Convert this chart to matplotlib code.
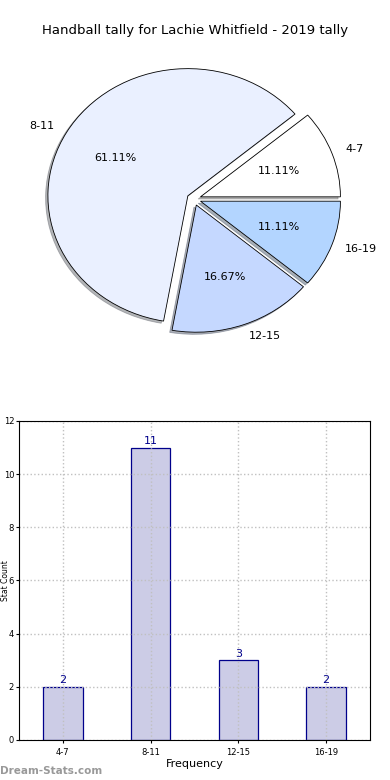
import matplotlib
matplotlib.use("Agg")
import matplotlib.pyplot as plt

title = "Handball tally for Lachie Whitfield - 2019 tally"
categories = ["4-7", "8-11", "12-15", "16-19"]
counts = [2, 11, 3, 2]
pie_colors = ["#ffffff", "#eaf0ff", "#c5d8ff", "#b3d5ff"]
explode = [0.05, 0.05, 0.05, 0.05]

fig = plt.figure(figsize=(3.9, 7.8), dpi=100)

# Pie
axp = fig.add_axes([0.0487, 0.541, 0.897, 0.4077])
wedges, texts, autotexts = axp.pie(
    counts, labels=categories, colors=pie_colors, explode=explode,
    autopct="%1.2f%%", shadow=dict(ox=-0.012, oy=-0.012, shade=0.55),
    startangle=0, counterclock=True,
    wedgeprops=dict(edgecolor="black", linewidth=0.6),
    textprops=dict(fontsize=8))
axp.set_aspect("auto")
axp.set_xlim(-1.25, 1.25)
axp.set_ylim(-1.25, 1.25)
fig.text(0.5, 0.961, title, ha="center", va="center", fontsize=9.5)

# Bar
axb = fig.add_axes([0.0487, 0.0513, 0.9, 0.409])
x = list(range(len(categories)))
bars = axb.bar(x, counts, width=0.45, color="#ccccE6", edgecolor="#00008b", linewidth=0.9)
for xi, c in zip(x, counts):
    axb.text(xi, c + 0.05, str(c), ha="center", va="bottom", color="#00008b", fontsize=8)
axb.set_xlim(-0.5, 3.5)
axb.set_ylim(0, 12)
axb.set_yticks(range(0, 13, 2))
axb.set_xticks(x)
axb.set_xticklabels(categories)
axb.tick_params(labelsize=6, length=2)
axb.tick_params(axis="y", pad=1.5)
axb.grid(True, linestyle=":", color="#c0c0c0", linewidth=1)
axb.set_axisbelow(False)
for sp in axb.spines.values():
    sp.set_zorder(4)
axb.set_xlabel("Frequency", fontsize=8, labelpad=2)
axb.set_ylabel("Stat Count", fontsize=5.5, labelpad=2)
axb.yaxis.set_label_coords(-0.027, 0.5)

fig.text(0.0, 0.005, "Dream-Stats.com", fontsize=7.5, color="#999999", fontweight="bold", ha="left", va="bottom")

fig.savefig("out.png", dpi=100)
